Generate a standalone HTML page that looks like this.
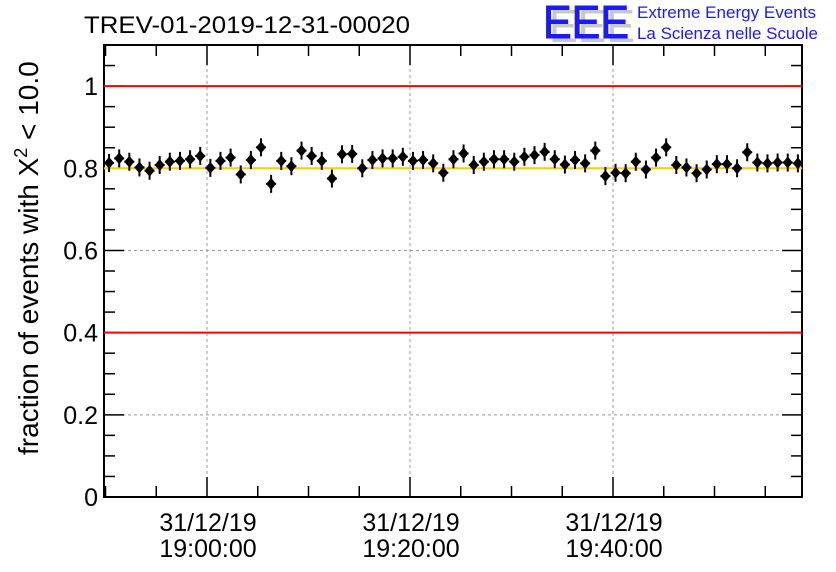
<!DOCTYPE html>
<html><head><meta charset="utf-8"><style>
body{margin:0;background:#fff}
svg{display:block;font-family:"Liberation Sans",sans-serif}
</style></head><body>
<svg id="chart" width="836" height="572" viewBox="0 0 836 572">
<rect width="836" height="572" fill="#fff"/>
<text x="84" y="33" font-size="24" textLength="326" lengthAdjust="spacingAndGlyphs">TREV-01-2019-12-31-00020</text>
<g>
<text x="549" y="42" font-size="46" fill="#c8c8c8" textLength="86" lengthAdjust="spacingAndGlyphs">EEE</text>
<text x="543" y="38" font-size="46" fill="#1a1aff" stroke="#1a1aff" stroke-width="1" textLength="86" lengthAdjust="spacingAndGlyphs">EEE</text>
<text x="637" y="18" font-size="16.5" fill="#1a1aff" textLength="179" lengthAdjust="spacingAndGlyphs">Extreme Energy Events</text>
<text x="637" y="39" font-size="16.5" fill="#1a1aff" textLength="181" lengthAdjust="spacingAndGlyphs">La Scienza nelle Scuole</text>
</g>
<text transform="translate(38,455) rotate(-90)" font-size="28">fraction of events with X<tspan dy="-11" font-size="18">2</tspan><tspan dy="11"> &lt; 10.0</tspan></text>
<g id="grid"></g><g id="axes"></g><g id="refs"></g><g id="marks"></g>
</svg>
<script>
const values=[0.813,0.824,0.816,0.802,0.794,0.808,0.816,0.818,0.822,0.830,0.801,0.818,0.826,0.785,0.820,0.851,0.762,0.818,0.805,0.843,0.830,0.818,0.775,0.834,0.835,0.800,0.820,0.824,0.824,0.828,0.818,0.820,0.812,0.789,0.822,
0.836,0.808,0.816,0.822,0.822,0.816,0.828,0.832,0.840,0.822,0.809,0.820,0.812,0.843,0.781,0.789,0.788,0.816,0.797,0.826,0.851,0.808,0.802,0.788,0.797,0.810,0.810,0.800,0.839,0.814,0.812,0.814,0.814,0.812];
const yTicks=[0,0.2,0.4,0.6,0.8,1];
const yTickLabels=["0","0.2","0.4","0.6","0.8","1"];
const xTickMinutes=[0,20,40];
const xTickLabels=[["31/12/19","19:00:00"],["31/12/19","19:20:00"],["31/12/19","19:40:00"]];
const refLines=[[1.0,"#ff0000"],[0.4,"#ff0000"],[0.8,"#ffcc00"]];
const firstMinute=-9.65, stepMinute=0.998;
const X0=104,X1=802,Y0=497,Y1=45;
const xs=m=>207+m*10.15;
const ys=v=>Y0-(v/1.1)*(Y0-Y1);
const NS="http://www.w3.org/2000/svg";
function mk(tag,attrs,parent){const e=document.createElementNS(NS,tag);for(const k in attrs)e.setAttribute(k,attrs[k]);document.getElementById(parent).appendChild(e);return e;}
yTicks.forEach(v=>{if(v>0&&v<1.05){const l=mk('line',{x1:X0,x2:X1,y1:ys(v),y2:ys(v),stroke:'#999','stroke-dasharray':'3,3'},'grid');

}});
xTickMinutes.forEach(m=>{const l=mk('line',{x1:xs(m),x2:xs(m),y1:Y1,y2:Y0,stroke:'#999','stroke-dasharray':'3,3'},'grid');

});
refLines.forEach(r=>{const l=mk('line',{x1:X0,x2:X1,y1:ys(r[0]),y2:ys(r[0]),stroke:r[1],'stroke-width':2},'refs');

});
const f=mk('rect',{x:X0,y:Y1,width:X1-X0,height:Y0-Y1,fill:'none',stroke:'#000','stroke-width':2},'axes');


for(let v=0;v<=1.1001;v+=0.05){const big=Math.abs(v/0.2-Math.round(v/0.2))<1e-6;const L=big?20:11;
mk('line',{x1:X0,x2:X0+L,y1:ys(v),y2:ys(v),stroke:'#000','stroke-width':1.5},'axes');
mk('line',{x1:X1,x2:X1-L,y1:ys(v),y2:ys(v),stroke:'#000','stroke-width':1.5},'axes');}
yTicks.forEach((v,i)=>{const t=mk('text',{x:X0-6,y:ys(v)+9,'text-anchor':'end','font-size':25},'axes');t.textContent=yTickLabels[i];

});
for(let m=-10;m<=60;m+=5){const x=xs(m);if(x<X0+1||x>X1-1)continue;const L=m%20===0?20:11;
mk('line',{x1:x,x2:x,y1:Y0,y2:Y0-L,stroke:'#000','stroke-width':1.5},'axes');
mk('line',{x1:x,x2:x,y1:Y1,y2:Y1+L,stroke:'#000','stroke-width':1.5},'axes');}
xTickMinutes.forEach((m,i)=>{xTickLabels[i].forEach((s,j)=>{const t=mk('text',{x:xs(m)+1,y:531+j*26,'text-anchor':'middle','font-size':25},'axes');t.textContent=s;

});});
values.forEach((v,i)=>{const x=xs(firstMinute+i*stepMinute),y=ys(v);
const g=mk('g',{},'marks');


g.innerHTML=`<line x1="${x}" x2="${x}" y1="${y-9}" y2="${y+9}" stroke="#000" stroke-width="2"/><line x1="${x-5}" x2="${x+5}" y1="${y}" y2="${y}" stroke="#000" stroke-width="2"/><polygon points="${x},${y-6} ${x+5},${y} ${x},${y+6} ${x-5},${y}" fill="#000"/>`;});
</script>
</body></html>
